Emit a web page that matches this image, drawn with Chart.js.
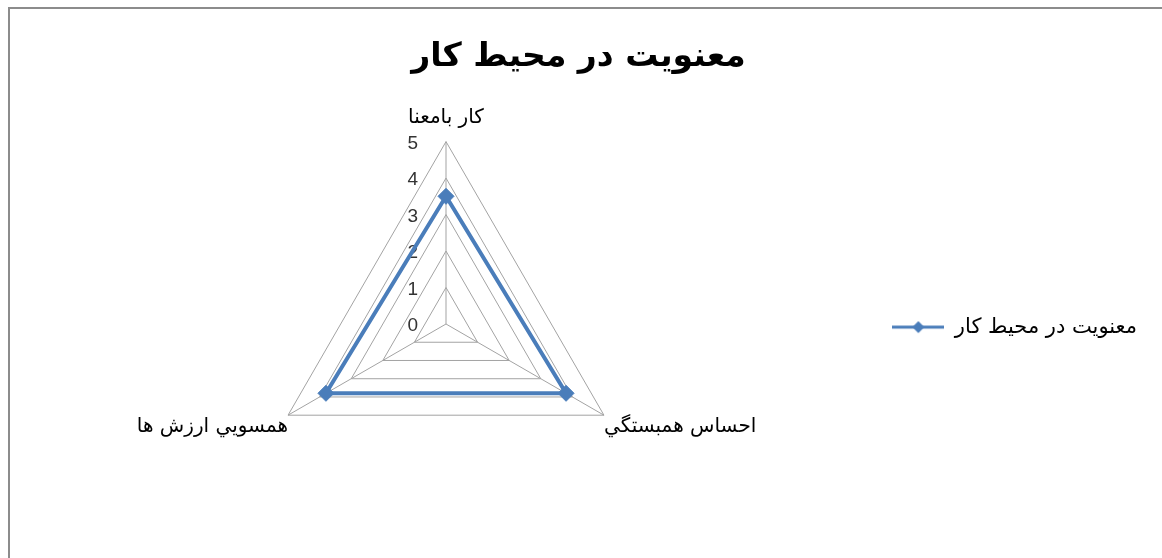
<!DOCTYPE html>
<html>
<head>
<meta charset="utf-8">
<script src="https://cdn.jsdelivr.net/npm/chart.js@4.4.1/dist/chart.umd.min.js"></script>
<style>
html,body{margin:0;padding:0;background:#fff;overflow:hidden;}
#frame{position:absolute;left:8px;top:7px;width:1152px;height:549px;border-left:2px solid #8c8c8c;border-top:2px solid #8c8c8c;}
#frame canvas{display:block;}
</style>
</head>
<body>
<div id="frame"><canvas id="radar"></canvas></div>
<script>
// data
const chartTitle = 'معنويت در محيط كار';
const seriesName = 'معنويت در محيط كار';
const categories = ['كار بامعنا', 'احساس همبستگي', 'همسويي ارزش ها'];
const seriesValues = [3.5, 3.8, 3.8];
const tickLabels = ['0', '1', '2', '3', '4', '5'];

const blue = '#4a7dba';
const gridCol = '#a3a3a3';
const arabic = "'DejaVu Sans', sans-serif";

// legend icon: line with a diamond, like Excel's
function legendIcon(){
  const c = document.createElement('canvas');
  c.width = 52; c.height = 16;
  const g = c.getContext('2d');
  g.strokeStyle = blue; g.lineWidth = 3;
  g.beginPath(); g.moveTo(0, 8); g.lineTo(52, 8); g.stroke();
  g.fillStyle = blue;
  g.beginPath(); g.moveTo(26, 2); g.lineTo(32, 8); g.lineTo(26, 14); g.lineTo(20, 8); g.closePath(); g.fill();
  return c;
}

// tick labels sit left of the vertical axis in Excel
const tickLabelPlugin = {
  id: 'tickLabels',
  beforeDatasetsDraw(chart){
    const s = chart.scales.r, c = chart.ctx;
    c.save();
    c.font = "19px 'Liberation Sans', sans-serif";
    c.fillStyle = '#333';
    c.textAlign = 'right';
    c.textBaseline = 'middle';
    tickLabels.forEach(t => {
      const y = s.yCenter - s.getDistanceFromCenterForValue(+t);
      c.fillText(t, s.xCenter - 28, y + 2);
    });
    c.restore();
  }
};

const icon = legendIcon();

new Chart(document.getElementById('radar'), {
  type: 'radar',
  data: {
    labels: categories,
    datasets: [{
      label: seriesName,
      data: seriesValues,
      borderColor: blue,
      backgroundColor: blue,
      borderWidth: 4,
      fill: false,
      pointStyle: 'rectRot',
      pointRadius: 8,
      pointBackgroundColor: blue,
      pointBorderColor: blue,
      pointBorderWidth: 1
    }]
  },
  options: {
    responsive: true,
    maintainAspectRatio: false,
    animation: false,
    layout: {padding: {left: 0, right: 15, top: 0, bottom: 32}},
    plugins: {
      title: {
        display: true,
        text: chartTitle,
        color: '#000',
        font: {family: arabic, size: 33, weight: 'bold'},
        padding: {top: 29, bottom: 10}
      },
      legend: {
        position: 'right',
        title: {display: true, text: '', padding: {top: 118, bottom: 0}, font: {size: 1}},
        labels: {
          usePointStyle: true,
          pointStyleWidth: 52,
          color: '#000',
          font: {family: arabic, size: 21},
          generateLabels: () => [{
            text: seriesName, pointStyle: icon, fontColor: '#000',
            fillStyle: blue, strokeStyle: blue, lineWidth: 0, hidden: false, datasetIndex: 0
          }]
        }
      },
      tooltip: {enabled: false}
    },
    scales: {
      r: {
        min: 0, max: 5, beginAtZero: true,
        ticks: {stepSize: 1, display: false},
        grid: {color: gridCol, lineWidth: 1},
        angleLines: {color: gridCol, lineWidth: 1},
        pointLabels: {
          color: '#000',
          font: {family: arabic, size: 20},
          padding: c => c.index === 0 ? 12 : 0
        }
      }
    }
  },
  plugins: [tickLabelPlugin]
});
</script>
</body>
</html>
